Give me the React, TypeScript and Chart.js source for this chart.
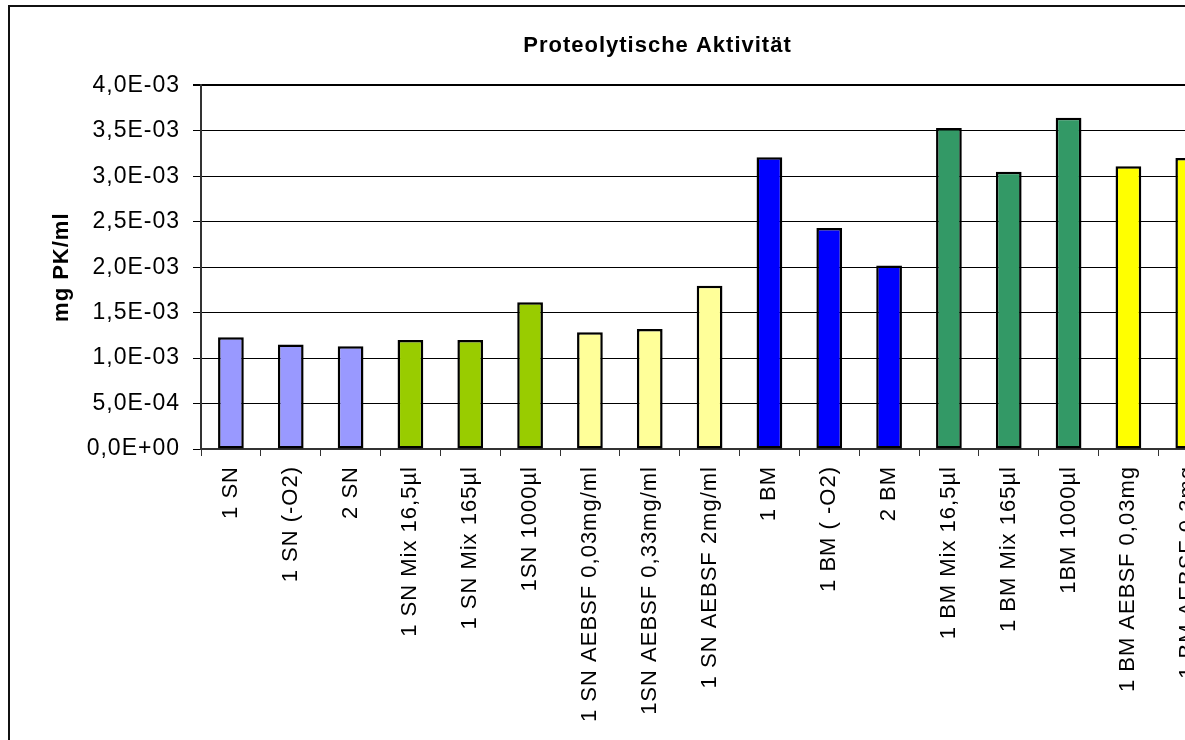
import React, { useEffect, useRef } from 'react';
import { Chart, registerables } from 'chart.js';

Chart.register(...registerables);

// Sample names along the x axis (the last slot sits beyond the visible edge)
const categories = [
  '1 SN',
  '1 SN (-O2)',
  '2 SN',
  '1 SN Mix 16,5µl',
  '1 SN Mix 165µl',
  '1SN 1000µl',
  '1 SN AEBSF 0,03mg/ml',
  '1SN AEBSF 0,33mg/ml',
  '1 SN AEBSF 2mg/ml',
  '1 BM',
  '1 BM ( -O2)',
  '2 BM',
  '1 BM Mix 16,5µl',
  '1 BM Mix 165µl',
  '1BM 1000µl',
  '1 BM AEBSF 0,03mg',
  '1 BM AEBSF 0,3mg',
  '',
];

// Proteolytic activity in mg PK/ml
const activity = [
  0.00123, 0.00115, 0.00113,
  0.0012, 0.0012, 0.001615,
  0.001285, 0.00132, 0.001795,
  0.00321, 0.00243, 0.00202,
  0.00353, 0.00305, 0.003645,
  0.00311, 0.0032, null,
];

// Fill colour per sample group
const barColors = [
  '#9999FF', '#9999FF', '#9999FF',
  '#99CC00', '#99CC00', '#99CC00',
  '#FFFF99', '#FFFF99', '#FFFF99',
  '#0000FF', '#0000FF', '#0000FF',
  '#339966', '#339966', '#339966',
  '#FFFF00', '#FFFF00', '#FFFF00',
];

// Value axis ticks
const yTicks = [0, 0.0005, 0.001, 0.0015, 0.002, 0.0025, 0.003, 0.0035, 0.004];

const FONT = "'Liberation Sans', Arial, Helvetica, sans-serif";
const CANVAS_W = 1318;
const CANVAS_H = 760;

// "4,0E-03" style scientific notation with a decimal comma
function sci(v: number): string {
  if (v === 0) return '0,0E+00';
  let exp = Math.floor(Math.log10(Math.abs(v)));
  let mant = v / Math.pow(10, exp);
  if (Number(mant.toFixed(1)) >= 10) {
    exp += 1;
    mant = v / Math.pow(10, exp);
  }
  const sign = exp < 0 ? '-' : '+';
  const e = String(Math.abs(exp)).padStart(2, '0');
  return mant.toFixed(1).replace('.', ',') + 'E' + sign + e;
}

// Outer chart frame and slightly wider glyph spacing
const framePlugin = {
  id: 'frame',
  beforeLayout(chart: any) {
    chart.ctx.letterSpacing = '1px';
  },
  beforeDraw(chart: any) {
    const ctx = chart.ctx;
    ctx.letterSpacing = '1px';
    ctx.save();
    ctx.fillStyle = '#ffffff';
    ctx.fillRect(0, 0, chart.width, chart.height);
    ctx.strokeStyle = '#111111';
    ctx.lineWidth = 2;
    ctx.strokeRect(9, 6, 1300, 900);
    ctx.restore();
  },
};

export default function App() {
  const canvasRef = useRef<HTMLCanvasElement | null>(null);

  useEffect(() => {
    const canvas = canvasRef.current;
    if (!canvas) return;
    const chart = new Chart(canvas, {
      type: 'bar',
      data: {
        labels: categories,
        datasets: [
          {
            data: activity,
            backgroundColor: barColors,
            borderColor: '#000000',
            borderWidth: 2.5,
            borderSkipped: false,
            categoryPercentage: 1,
            barPercentage: 0.43,
          },
        ],
      },
      plugins: [framePlugin],
      options: {
        responsive: false,
        animation: false,
        devicePixelRatio: 1,
        layout: { padding: { left: 37, right: 40, top: 0, bottom: 0 } },
        plugins: {
          legend: { display: false },
          tooltip: { enabled: false },
          title: {
            display: true,
            text: 'Proteolytische Aktivität',
            color: '#000000',
            font: { family: FONT, size: 22, weight: 'bold' },
            padding: { top: 33, bottom: 26 },
          },
        },
        scales: {
          x: {
            type: 'category',
            offset: true,
            grid: {
              display: true,
              offset: true,
              drawOnChartArea: false,
              drawTicks: true,
              tickLength: 7,
              color: '#333333',
              lineWidth: 1,
            },
            border: { display: true, color: '#333333', width: 2 },
            ticks: {
              autoSkip: false,
              minRotation: 90,
              maxRotation: 90,
              padding: 10,
              color: '#000000',
              font: { family: FONT, size: 22 },
            },
            afterFit(scale: any) {
              scale.height = CANVAS_H - 449;
            },
          },
          y: {
            min: 0,
            max: 0.004,
            grid: {
              color: '#000000',
              lineWidth: (ctx: any) => (ctx.tick && ctx.tick.value >= 0.004 ? 2 : 1),
              drawTicks: true,
              tickLength: 8,
            },
            border: { display: true, color: '#333333', width: 2 },
            ticks: {
              padding: 13,
              color: '#000000',
              font: { family: FONT, size: 23 },
              callback: (v: any) => sci(Number(v)),
            },
            afterBuildTicks(axis: any) {
              axis.ticks = yTicks.map((v) => ({ value: v }));
            },
            title: {
              display: true,
              text: 'mg PK/ml',
              color: '#000000',
              font: { family: FONT, size: 22, weight: 'bold' },
              padding: { top: 12, bottom: 0 },
            },
            afterFit(scale: any) {
              scale.width = 164;
            },
          },
        },
      },
    });
    return () => chart.destroy();
  }, []);

  return (
    <div
      style={{
        position: 'absolute',
        left: 0,
        top: 0,
        width: 1185,
        height: 740,
        overflow: 'hidden',
        background: '#ffffff',
      }}
    >
      <canvas
        ref={canvasRef}
        width={CANVAS_W}
        height={CANVAS_H}
        style={{ position: 'absolute', left: 0, top: 0 }}
      />
    </div>
  );
}
